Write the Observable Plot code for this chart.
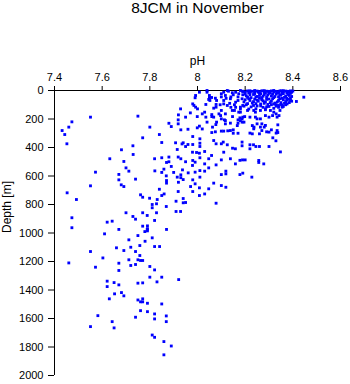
<!DOCTYPE html>
<html>
<head>
<meta charset="utf-8">
<script src="https://cdn.jsdelivr.net/npm/d3@7"></script>
<script src="https://cdn.jsdelivr.net/npm/@observablehq/plot@0.6"></script>
<style>
  html, body { margin: 0; padding: 0; background: #fff; }
  #chart svg { display: block; }
</style>
</head>
<body>
<div id="chart"></div>
<script>
const titleText = "8JCM in November";
const xLabel = "pH";
const yLabel = "Depth [m]";
const xTicks = [7.4, 7.6, 7.8, 8.0, 8.2, 8.4, 8.6];
const yTicks = [0, 200, 400, 600, 800, 1000, 1200, 1400, 1600, 1800, 2000];

// pH values (x) and depths (y)
const ph = [
  7.432,7.443,7.46,7.473,7.452,7.551,7.453,7.492,7.473,7.473,7.572,7.551,7.632,7.67,7.67,7.681,7.691,7.70,7.712,7.68,
  7.691,7.729,7.73,7.74,7.75,7.77,7.70,7.729,7.74,7.77,7.761,7.77,7.789,7.799,7.81,7.81,7.828,7.828,7.82,7.621,
  7.642,7.67,7.77,7.789,7.80,7.82,7.821,7.84,7.85,7.85,7.84,7.85,7.86,7.869,7.831,7.87,7.85,7.859,7.869,7.87,
  7.87,7.88,7.88,7.87,7.89,7.88,7.89,7.90,7.908,7.915,7.915,7.92,7.919,7.91,7.91,7.929,7.94,7.94,7.95,7.919,
  7.93,7.937,7.94,7.93,7.95,7.961,7.971,7.98,7.98,8.008,8.008,7.979,7.98,7.996,7.979,8.008,7.96,7.98,7.95,7.94,
  7.93,7.929,7.92,7.95,7.919,7.919,7.96,7.97,7.98,7.992,7.999,7.98,7.999,8.008,7.992,7.99,8.008,
  7.46,7.551,7.572,7.582,7.551,7.603,7.61,7.621,7.621,7.63,7.642,7.65,7.65,7.652,7.66,7.67,7.67,7.67,7.681,7.691,
  7.691,7.712,7.712,7.72,7.72,7.74,7.74,7.74,7.75,7.75,7.75,7.75,7.758,7.758,7.761,7.761,7.77,7.77,7.77,7.77,
  7.761,7.779,7.78,7.79,7.79,7.79,7.79,7.79,7.80,7.81,7.82,7.841,7.82,7.80,7.83,7.85,7.85,7.82,7.82,7.869,
  7.869,7.81,7.82,7.859,7.89,7.859,7.921,
  8.446,8.415,8.376,8.346,8.342,8.33,8.337,8.334,8.337,8.316,8.329,8.348,8.30,8.278,8.257,8.257,8.228,8.189,8.178,8.2,
  8.178,8.19,8.159,8.138,8.119,8.119,8.10,8.10,8.11,8.119,8.10,8.078,8.078,8.068,8.059,8.047,8.047,8.03,8.03,8.03,
  8.047,8.01,8.01,8.01,8.03,7.99,7.99,7.99,8.078,8.10,8.108,8.147,8.159,8.187,8.187,8.22,8.235,8.245,8.26,8.22,
  8.068,8.01,8.01,8.01,8.063,8.077,8.04,8.06,8.06,8.068,8.078,8.078,8.097,8.113,8.117,8.138,8.127,8.10,8.11,8.138,
  8.147,8.155,8.17,8.17,8.178,8.187,8.187,8.198,8.22,8.23,8.237,8.25,8.27,8.285,8.28,8.27,8.29,8.30,8.33,8.31,
  8.03,8.035,8.052,8.035,8.05,8.05,8.02,
  8.04,8.04,8.047,8.059,8.075,8.08,8.10,8.11,8.117,8.125,8.11,8.11,8.125,8.138,8.146,8.16,8.16,8.17,8.173,8.18,
  8.19,8.187,8.19,8.18,8.068,8.10,8.117,8.09,8.146,8.173,8.0,7.985,8.02,8.08,8.10,8.117,8.15,8.167,8.18,
  8.19,8.195,8.22,8.243,8.25,8.264,8.285,8.30,8.315,8.334,8.23,8.236,8.264,8.18,8.18,8.21,8.236,8.243,8.264,8.285,
  8.306,8.32,8.34,8.355,8.39,
  8.06,8.075,8.15,8.17,8.26,7.935,8.125,7.93,
  8.19,8.21,8.23,8.25,8.27,8.29,8.31,8.33,8.35,8.37,8.39,8.24,8.28,8.32,8.36,8.38,8.30,8.34,8.22,8.26,
  8.20,8.22,8.24,8.26,8.28,8.30,8.31,8.33,8.35,8.36,8.37,8.38,8.39,8.34,8.32,8.29,8.27,8.25,8.21,8.385,
  8.355,8.375,8.20,8.22,8.24,8.255,8.27,8.285,8.30,8.31,8.325,8.34,8.35,8.36,8.37,8.38,8.385,8.23,8.265,8.295,
  8.33,8.355,8.21,8.195,8.225,8.25,8.275,8.30,8.32,8.34,8.36,8.245,8.285,8.215,
  8.20,8.22,8.24,8.26,8.28,8.30,8.32,8.34,8.36,8.38,8.40,8.395,8.345,8.305,8.255,8.215,
  8.205,8.235,8.245,8.265,8.275,8.295,8.315,8.325,8.345,8.365,8.375,8.395,8.285,8.225,8.355,8.335,
  8.195,8.215,8.235,8.245,8.26,8.275,8.29,8.305,8.315,8.335,8.345,8.365,8.375,8.39,8.395,8.28,8.32,8.25,
  8.235,8.265,8.29,8.31,8.35,8.37,8.33,8.205,
  8.13,8.15,8.14,8.17,8.12,8.155,8.135,8.16,8.10,8.19,8.095,8.14
];
const depth = [
  281,309,257,220,374,187,718,765,893,963,573,669,479,589,627,416,498,543,566,662,
  674,388,449,622,180,332,858,884,903,858,732,749,877,756,800,823,795,858,912,924,
  917,975,952,975,257,479,564,309,365,472,693,737,726,814,765,975,575,552,599,632,
  650,467,500,505,533,230,253,575,367,414,608,644,709,777,849,849,758,788,786,467,
  479,557,625,612,500,578,674,627,709,683,737,526,491,435,433,440,379,379,393,367,
  276,129,171,187,206,234,272,157,94,117,183,323,262,250,35,51,12,
  1210,1130,1240,1580,1657,1175,1006,1338,1376,1462,1622,1666,1348,1427,1104,1212,1263,1364,1418,1441,
  1123,1048,1188,1100,1228,1130,1221,1591,1018,1188,1352,1470,1158,1088,1545,1193,1193,1350,1462,1483,
  1483,990,1058,950,970,985,1493,1552,1235,1034,1095,1095,1259,1310,1343,1310,1498,1568,1603,1582,
  1622,1716,1732,1762,1793,1855,1327,
  47,77,94,140,176,164,241,281,295,332,353,431,393,515,491,505,608,487,490,487,
  590,580,515,479,566,585,590,487,433,679,667,522,791,650,456,479,690,428,515,566,
  543,472,608,562,726,503,655,573,374,374,362,405,409,362,388,381,381,393,393,409,
  351,339,370,393,257,239,222,169,183,187,98,117,176,206,234,229,283,285,285,281,
  183,140,206,229,192,199,222,183,299,304,257,234,234,245,257,281,290,292,299,276,
  152,187,70,98,35,51,270,
  0,12,63,49,54,70,23,12,35,0,70,94,105,58,16,12,82,70,23,0,
  7,58,105,117,124,140,164,164,140,152,129,105,164,222,199,211,276,246,211,
  187,222,187,187,199,199,176,187,176,187,246,269,257,129,152,140,140,152,140,129,
  140,152,105,117,70,
  295,290,300,300,304,375,381,592,
  5,3,6,4,2,5,3,6,2,4,3,8,9,10,8,10,12,14,14,15,
  25,30,22,35,28,20,38,25,33,22,40,28,20,45,50,45,50,42,48,35,
  55,55,65,70,60,75,65,80,60,75,88,70,85,65,78,62,85,88,95,98,
  100,102,92,110,115,108,118,112,125,118,112,128,135,130,
  10,2,0,8,1,6,0,9,1,6,4,12,4,15,12,16,
  38,28,45,22,40,32,26,42,30,48,18,42,18,50,15,18,
  80,58,78,92,55,72,62,85,58,80,58,90,68,55,75,90,95,68,
  105,108,115,100,98,100,110,100,
  5,30,45,45,55,100,90,118,45,30,100,118
];

const points = ph.map((p, i) => ({ph: p, depth: depth[i]}));
const fmtX = d => String(+d.toFixed(1));
const fmtY = d => String(d);

const chart = Plot.plot({
  width: 350,
  height: 384,
  marginLeft: 54,
  marginRight: 10,
  marginTop: 90,
  marginBottom: 9,
  style: { fontFamily: "'Liberation Sans', Arial, sans-serif", fontSize: "11px", color: "#000", background: "#fff" },
  x: { domain: [7.4, 8.6] },
  y: { domain: [0, 2000], reverse: true },
  marks: [
    Plot.axisX({ anchor: "top", ticks: xTicks, tickFormat: fmtX, tickSize: 5, tickPadding: 5, label: null, fontSize: 11 }),
    Plot.axisY({ anchor: "left", ticks: yTicks, tickFormat: fmtY, tickSize: 6, tickPadding: 5, label: null, fontSize: 11 }),
    Plot.ruleY([0], { stroke: "#000" }),
    Plot.ruleX([7.4], { stroke: "#000" }),
    Plot.dot(points, { x: "ph", y: "depth", symbol: "square", r: 1.6, fill: "#0000ff", stroke: null }),
    Plot.text([titleText], { text: d => d, frameAnchor: "top", lineAnchor: "middle", dy: -82, fontSize: 15.5 }),
    Plot.text([xLabel], { text: d => d, frameAnchor: "top", lineAnchor: "middle", dy: -29, fontSize: 12 }),
    Plot.text([yLabel], { text: d => d, frameAnchor: "left", lineAnchor: "middle", dx: -47, rotate: -90, fontSize: 12 })
  ]
});
document.getElementById("chart").appendChild(chart);
</script>
</body>
</html>
